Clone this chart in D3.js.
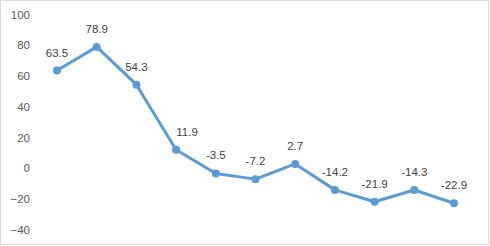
<!DOCTYPE html>
<html>
<head>
<meta charset="utf-8">
<script src="https://cdn.jsdelivr.net/npm/d3@7"></script>
<style>
  body { margin: 0; background: #fff; }
  svg { display: block; font-family: "Liberation Sans", Arial, sans-serif; }
</style>
</head>
<body>
<div id="chart"></div>
<script>
const width = 490, height = 246;

// data
const periods = ["1", "2", "3", "4", "5", "6", "7", "8", "9", "10", "11"];
const values = [63.5, 78.9, 54.3, 11.9, -3.5, -7.2, 2.7, -14.2, -21.9, -14.3, -22.9];
const yTicks = [-40, -20, 0, 20, 40, 60, 80, 100];

const data = periods.map((p, i) => ({ p: p, v: values[i] }));

const x = d3.scalePoint().domain(periods).range([57, 454]);
const y = d3.scaleLinear().domain([-40, 100]).range([229.5, 14.5]);

const svg = d3.select("#chart").append("svg")
    .attr("width", width)
    .attr("height", height);

// outer frame
svg.append("rect")
    .attr("x", 0.5).attr("y", 0.5)
    .attr("width", width - 2).attr("height", height - 2)
    .attr("fill", "#fff")
    .attr("stroke", "#d9d9d9");

// y axis, labels only
const yAxis = svg.append("g")
    .attr("transform", "translate(30,0)")
    .call(d3.axisLeft(y).tickValues(yTicks).tickSize(0).tickPadding(0));
yAxis.select(".domain").remove();
yAxis.selectAll("text")
    .attr("fill", "#595959")
    .style("font-size", "11.5px")
    .style("font-family", "Liberation Sans, Arial, sans-serif");

const line = d3.line().x(d => x(d.p)).y(d => y(d.v));

svg.append("path")
    .datum(data)
    .attr("d", line)
    .attr("fill", "none")
    .attr("stroke", "#5b9bd5")
    .attr("stroke-width", 3)
    .attr("stroke-linejoin", "round");

svg.selectAll("circle.pt")
    .data(data)
    .enter().append("circle")
    .attr("class", "pt")
    .attr("cx", d => x(d.p))
    .attr("cy", d => y(d.v))
    .attr("r", 4)
    .attr("fill", "#5b9bd5");

// the 11.9 label sits nudged to the right of its point, clear of the steep segment
svg.selectAll("text.lbl")
    .data(data)
    .enter().append("text")
    .attr("class", "lbl")
    .attr("x", (d, i) => x(d.p) + (i === 3 ? 11 : 0))
    .attr("y", d => y(d.v) - 14)
    .attr("text-anchor", "middle")
    .attr("fill", "#404040")
    .style("font-size", "11.5px")
    .text(d => d.v);
</script>
</body>
</html>
